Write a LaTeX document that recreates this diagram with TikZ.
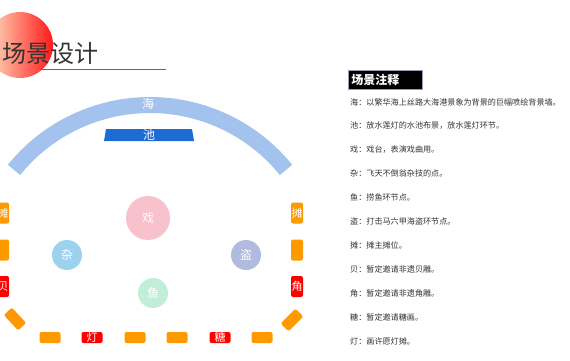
\documentclass[tikz,border=0pt]{standalone}
\usepackage{fontspec}
\setmainfont{Noto Sans CJK SC}
\usetikzlibrary{positioning}
\definecolor{seablue}{HTML}{A3C2EE}
\definecolor{poolblue}{HTML}{1F6BD4}
\definecolor{stallorange}{HTML}{FF9900}
\definecolor{stallred}{HTML}{FF0000}
\definecolor{stagepink}{HTML}{F7C2CB}
\definecolor{acroblue}{HTML}{9DD2EE}
\definecolor{pirateblue}{HTML}{B1BADF}
\definecolor{fishgreen}{HTML}{C2EDD9}
\definecolor{notegray}{HTML}{333333}
\tikzset{
  spot/.style={circle, minimum size=30pt, inner sep=0pt, text=white, font=\fontsize{12}{12}\selectfont},
  stall/.style={fill=stallorange, rounded corners=2pt, minimum width=12pt, minimum height=21pt, inner sep=0pt, text=white, font=\fontsize{11}{11}\selectfont},
  stallh/.style={stall, minimum width=21pt, minimum height=11pt},
  guest/.style={fill=stallred},
  note/.style={anchor=west, inner sep=0pt, text=notegray, font=\fontsize{8.1}{8.1}\selectfont},
}

\begin{document}
\begin{tikzpicture}[x=1pt, y=1pt]
  \useasboundingbox (0,0) rectangle (570,-360);
  % title
  \shade[left color=orange!25!white, right color=red!90] (20,-45) circle (33);
  \node[anchor=base west, inner sep=0pt, text=black!80, font=\fontsize{24}{24}\selectfont] (title) at (2,-62) {场景设计};
  \draw[black!60, line width=0.8pt] (40,-69) -- (166,-69);
  % sea wall and pool
  \draw[seablue, line width=16pt] ([shift={(39:175)}]150,-280) arc[start angle=39, end angle=141, radius=175];
  \node[text=white, font=\fontsize{12}{12}\selectfont] (sea) at (148,-104) {海};
  \fill[poolblue] (106,-129) -- (192,-129) -- (194,-141) -- (104,-141) -- cycle;
  \node[text=white, font=\fontsize{12}{12}\selectfont] (pool) at (149,-135) {池};
  % spots
  \node[spot, fill=stagepink, minimum size=44pt] (stage) at (148,-218) {戏};
  \node[spot, fill=acroblue] (acro) at (67,-255) {杂};
  \node[spot, fill=pirateblue] (pirate) at (246,-255) {盗};
  \node[spot, fill=fishgreen] (fish) at (153,-293) {鱼};
  % stalls, left and right
  \node[stall] (left1) at (3,-213) {摊};
  \node[stall] (left2) at (3,-250) {};
  \node[stall, guest] (left3) at (3,-286.5) {贝};
  \node[stall] (right1) at (297,-213) {摊};
  \node[stall] (right2) at (297,-250) {};
  \node[stall, guest] (right3) at (297,-286.5) {角};
  \node[stallh, rotate=-47] (cornerl) at (15,-319) {};
  \node[stallh, rotate=45] (cornerr) at (292,-320) {};
  % stalls, bottom
  \node[stallh] (bottom1) at (50,-337.5) {};
  \node[stallh, guest] (bottom2) at (92,-337.5) {灯};
  \node[stallh] (bottom3) at (135,-337.5) {};
  \node[stallh] (bottom4) at (177,-337.5) {};
  \node[stallh, guest] (bottom5) at (220,-337.5) {糖};
  \node[stallh] (bottom6) at (262,-337.5) {};
  % notes
  \node[anchor=north west, fill=black, draw=blue!30!black!40, line width=0.5pt, minimum height=19pt, text width=68pt, inner xsep=3pt, text=white, font=\bfseries\fontsize{12}{12}\selectfont] (notehead) at (348,-70) {场景注释};
  \foreach \txt [count=\i] in {海：以繁华海上丝路大海港景象为背景的巨幅喷绘背景墙。,
    池：放水莲灯的水池布景，放水莲灯环节。, 戏：戏台，表演戏曲用。,
    杂：飞天不倒翁杂技的点。, 鱼：捞鱼环节点。, 盗：打击马六甲海盗环节点。,
    摊：摊主摊位。, 贝：暂定邀请非遗贝雕。, 角：暂定邀请非遗角雕。,
    糖：暂定邀请糖画。, 灯：画许愿灯摊。}
    \node[note] (note\i) at (350,{-102-23.9*(\i-1)}) {\txt};
\end{tikzpicture}
\end{document}
